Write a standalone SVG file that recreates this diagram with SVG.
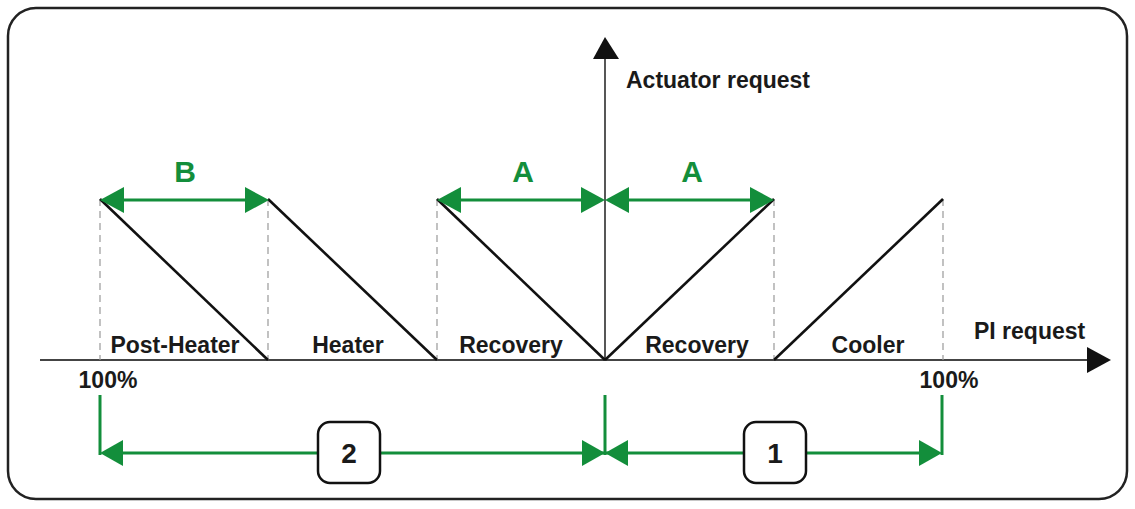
<svg xmlns="http://www.w3.org/2000/svg" width="1135" height="509" viewBox="0 0 1135 509">
<style>
.lbl{font-family:"Liberation Sans",Arial,sans-serif;font-weight:bold;fill:#1a1a1a;font-size:23px;text-anchor:middle}
.grn{font-family:"Liberation Sans",Arial,sans-serif;font-weight:bold;fill:#138e3b;font-size:30px;text-anchor:middle}
.num{font-family:"Liberation Sans",Arial,sans-serif;font-weight:bold;fill:#1a1a1a;font-size:28px;text-anchor:middle}
.ramp{stroke:#111;stroke-width:2.6;fill:none}
.dash{stroke:#999;stroke-width:1.2;stroke-dasharray:7 5;fill:none}
.axis{stroke:#444;stroke-width:1.8;fill:none}
.gl{stroke:#138e3b;stroke-width:3;fill:none}
.gh{fill:#138e3b}
.box{fill:#fff;stroke:#111;stroke-width:2.5}
</style>
<rect x="8" y="8" width="1119" height="491" rx="28" ry="28" fill="#fff" stroke="#222" stroke-width="2.5"/>
<g id="axes">
<line class="axis" x1="40" y1="360" x2="1090" y2="360"/>
<polygon points="1087,347 1111,360 1087,373" fill="#111"/>
<line class="axis" x1="605" y1="360" x2="605" y2="56"/>
<polygon points="593,59 605,37 619,59" fill="#111"/>
<text class="lbl" x="626" y="88" style="text-anchor:start">Actuator request</text>
<text class="lbl" x="974" y="339" style="text-anchor:start">PI request</text>
<text class="lbl" x="108" y="388">100%</text>
<text class="lbl" x="949" y="388">100%</text>
</g>
<g id="guides">
<line class="dash" x1="100" y1="199" x2="100" y2="360"/>
<line class="dash" x1="268" y1="199" x2="268" y2="360"/>
<line class="dash" x1="437" y1="199" x2="437" y2="360"/>
<line class="dash" x1="774" y1="199" x2="774" y2="360"/>
<line class="dash" x1="943" y1="199" x2="943" y2="360"/>
</g>
<g id="post-heater">
<line class="ramp" x1="100" y1="199" x2="268" y2="360"/>
<text class="lbl" x="175" y="353">Post-Heater</text>
</g>
<g id="heater">
<line class="ramp" x1="268" y1="199" x2="437" y2="360"/>
<text class="lbl" x="348" y="353">Heater</text>
</g>
<g id="recovery-left">
<line class="ramp" x1="437" y1="199" x2="605" y2="360"/>
<text class="lbl" x="511" y="353">Recovery</text>
</g>
<g id="recovery-right">
<line class="ramp" x1="605" y1="360" x2="774" y2="199"/>
<text class="lbl" x="697" y="353">Recovery</text>
</g>
<g id="cooler">
<line class="ramp" x1="774" y1="360" x2="943" y2="199"/>
<text class="lbl" x="868" y="353">Cooler</text>
</g>
<g id="connectors">
<line class="gl" x1="120" y1="200" x2="248" y2="200"/>
<polygon class="gh" points="100,200 124,187 124,213"/>
<polygon class="gh" points="269,200 245,187 245,213"/>
<text class="grn" x="185" y="182">B</text>
<line class="gl" x1="457" y1="200" x2="585" y2="200"/>
<polygon class="gh" points="437,200 461,187 461,213"/>
<polygon class="gh" points="605,200 581,187 581,213"/>
<text class="grn" x="523" y="182">A</text>
<line class="gl" x1="625" y1="200" x2="754" y2="200"/>
<polygon class="gh" points="605,200 629,187 629,213"/>
<polygon class="gh" points="774,200 750,187 750,213"/>
<text class="grn" x="692" y="182">A</text>
<line class="gl" x1="100" y1="395" x2="100" y2="455"/>
<line class="gl" x1="605" y1="395" x2="605" y2="455"/>
<line class="gl" x1="942" y1="395" x2="942" y2="455"/>
<line class="gl" x1="115" y1="453" x2="927" y2="453"/>
<polygon class="gh" points="100,453 123,440 123,466"/>
<polygon class="gh" points="605,453 582,440 582,466"/>
<polygon class="gh" points="605,453 628,440 628,466"/>
<polygon class="gh" points="942,453 919,440 919,466"/>
</g>
<g id="zone-2">
<rect class="box" x="318" y="422" width="62" height="61" rx="12" ry="12"/>
<text class="num" x="349" y="463">2</text>
</g>
<g id="zone-1">
<rect class="box" x="744" y="422" width="62" height="61" rx="12" ry="12"/>
<text class="num" x="775" y="463">1</text>
</g>
</svg>
